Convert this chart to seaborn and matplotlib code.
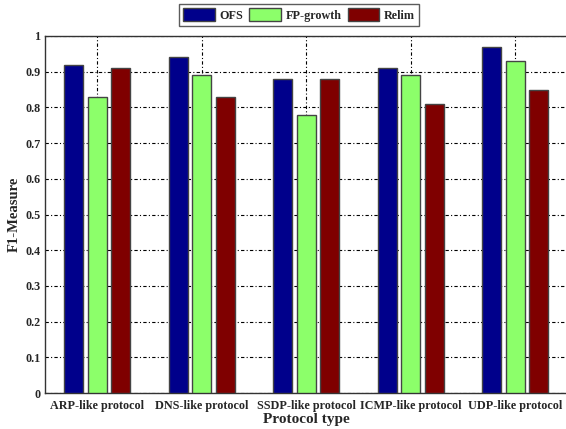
import matplotlib
matplotlib.use("Agg")
import matplotlib.pyplot as plt
import seaborn as sns
import pandas as pd

categories = ["ARP-like protocol", "DNS-like protocol", "SSDP-like protocol",
              "ICMP-like protocol", "UDP-like protocol"]
methods = ["OFS", "FP-growth", "Relim"]
ofs = [0.92, 0.94, 0.88, 0.91, 0.97]
fp_growth = [0.83, 0.89, 0.78, 0.89, 0.93]
relim = [0.91, 0.83, 0.88, 0.81, 0.85]
yticks = [0, 0.1, 0.2, 0.3, 0.4, 0.5, 0.6, 0.7, 0.8, 0.9, 1]
ytick_labels = ["0", "0.1", "0.2", "0.3", "0.4", "0.5", "0.6", "0.7", "0.8", "0.9", "1"]

rows = []
for series, name in zip([ofs, fp_growth, relim], methods):
    for c, v in zip(categories, series):
        rows.append({"Protocol type": c, "Method": name, "F1": v})
df = pd.DataFrame(rows)

sns.set_style("white")
plt.rcParams["font.family"] = ["Liberation Serif", "DejaVu Serif"]
plt.rcParams["font.weight"] = "bold"

fig = plt.figure(figsize=(5.66, 4.29), dpi=100)
ax = fig.add_axes([45 / 566, (429 - 393) / 429, 522.5 / 566, (393 - 36) / 429])

palette = {"OFS": "#00008B", "FP-growth": "#8CFF6A", "Relim": "#7F0000"}
sns.barplot(data=df, x="Protocol type", y="F1", hue="Method", order=categories,
            hue_order=methods, palette=palette, width=0.675, gap=0.2,
            edgecolor="#444444", linewidth=1.0, saturation=1, ax=ax, zorder=3)

ax.set_xlim(-0.5, 4.5)
ax.set_ylim(0, 1)
ax.set_yticks(yticks)
ax.set_yticklabels(ytick_labels, fontsize=8.7, fontweight="bold")
ax.set_xticks(range(len(categories)))
ax.set_xticklabels(categories, fontsize=8.7, fontweight="bold")
ax.tick_params(axis="x", length=0, pad=5)
ax.tick_params(axis="y", length=0, pad=3)
ax.grid(True, color="black", linestyle=(0, (3, 2, 1, 2)), linewidth=0.8, zorder=0)
ax.set_axisbelow(True)
for s in ax.spines.values():
    s.set_color("#333333")
    s.set_linewidth(1.0)
    s.set_visible(True)

ax.set_xlabel("Protocol type", fontsize=11, fontweight="bold", labelpad=1)
ax.set_ylabel("F1-Measure", fontsize=10.5, fontweight="bold")
ax.yaxis.set_label_coords(-0.047, 0.5)

leg = ax.legend(loc="upper center", bbox_to_anchor=(299 / 566, 1 - 4 / 429),
                bbox_transform=fig.transFigure, borderaxespad=0,
                ncol=3, frameon=True, fancybox=False, fontsize=8.7,
                handlelength=2.6, handleheight=1.25, columnspacing=0.5, handletextpad=0.4,
                borderpad=0.35, title=None)
leg.get_frame().set_edgecolor("#333333")
leg.get_frame().set_linewidth(1.0)
for t in leg.get_texts():
    t.set_fontweight("bold")

fig.savefig("out.png", dpi=100)
